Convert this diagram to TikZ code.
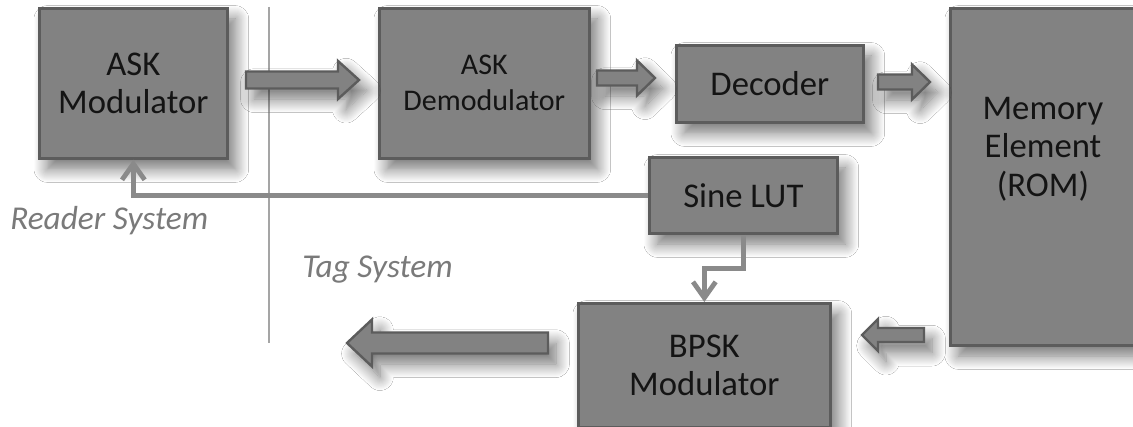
\documentclass[tikz,border=0pt]{standalone}
\usepackage{fontspec}
\setmainfont{Carlito}
\usetikzlibrary{arrows.meta,shadows.blur,calc}
\definecolor{boxfill}{RGB}{130,130,130}
\definecolor{boxline}{RGB}{92,92,92}
\definecolor{txt}{RGB}{20,20,20}
\definecolor{lbl}{RGB}{122,122,122}
\definecolor{wire}{RGB}{138,138,138}
\definecolor{divider}{RGB}{165,165,165}
\tikzset{
  shd/.style={blur shadow={shadow xshift=6pt, shadow yshift=-8pt, shadow blur radius=10pt, shadow blur steps=14, shadow opacity=55}},
  blk/.style={draw=boxline, fill=boxfill, line width=2pt, text=txt, align=center,
    anchor=north west, inner sep=0pt, font=\fontsize{26}{29}\selectfont, shd},
  sz/.style 2 args={minimum width=#1*0.75pt, minimum height=#2*0.75pt},
  barr/.style={draw=boxline, fill=boxfill, line width=1.8pt, line join=miter, shd},
  wireline/.style={draw=wire, line width=3.6pt,
    -{Straight Barb[length=12pt,width=17pt,line width=3.6pt]}},
  sysl/.style={anchor=base west, inner sep=0pt, text=lbl, font=\fontsize{25}{29}\selectfont\itshape}
}
\newcommand\blockarr[5]{%
  \path[barr] let \p1=(#1), \p2=(#2), \n1={sign(\x2-\x1)} in
    (\x1,{\y1+#3*0.75pt}) -- ({\x2-\n1*#5*0.75pt},{\y1+#3*0.75pt})
    -- ({\x2-\n1*#5*0.75pt},{\y1+#4*0.75pt}) -- (\x2,\y1)
    -- ({\x2-\n1*#5*0.75pt},{\y1-#4*0.75pt}) -- ({\x2-\n1*#5*0.75pt},{\y1-#3*0.75pt})
    -- (\x1,{\y1-#3*0.75pt}) -- cycle;}
\begin{document}
\begin{tikzpicture}[x=0.75pt, y=-0.75pt]
  \fill[white] (0,0) rectangle (1133,427);
  \clip (0,0) rectangle (1133,427);
  % divider
  \draw[divider, line width=1.2pt] (269,7) -- (269,343);
  % blocks
  \node[blk, sz={188}{150}] (askmod) at (38,7) {ASK\\Modulator};
  \node[blk, sz={210}{150}, font=\fontsize{22.5}{27}\selectfont] (askdem) at (378,7) {ASK\\Demodulator};
  \node[blk, sz={187}{77}] (dec) at (675,44) {Decoder};
  \node[blk, sz={188}{337}] (mem) at (949,7) {};
  \node[text=txt, align=center, font=\fontsize{26}{29}\selectfont] (memtext) at (1043,149) {Memory\\Element\\(ROM)};
  \node[blk, sz={188}{76}] (sine) at (648,156) {Sine LUT};
  \node[blk, sz={252}{124}] (bpsk) at (577,302) {BPSK\\Modulator};
  % block arrows
  \coordinate (a1s) at (246,80);  \coordinate (a1e) at (359,80);
  \coordinate (a2s) at (597,78);  \coordinate (a2e) at (655,78);
  \coordinate (a3s) at (878,82);  \coordinate (a3e) at (930,82);
  \coordinate (a4s) at (924,335); \coordinate (a4e) at (862,335);
  \coordinate (a5s) at (548,343); \coordinate (a5e) at (347,343);
  \blockarr{a1s}{a1e}{8.5}{19}{21}
  \blockarr{a2s}{a2e}{7.5}{17.5}{18}
  \blockarr{a3s}{a3e}{7.5}{17.5}{18}
  \blockarr{a4s}{a4e}{7}{16}{16}
  \blockarr{a5s}{a5e}{10.5}{23.5}{25}
  % wires
  \draw[wireline] (sine.west) -| (askmod.south);
  \draw[wireline] (sine.south) -- ++(0,34) -| (bpsk.north);
  % labels
  \node[sysl] (reader) at (10,230) {Reader System};
  \node[sysl] (tag) at (302,278) {Tag System};
\end{tikzpicture}
\end{document}
